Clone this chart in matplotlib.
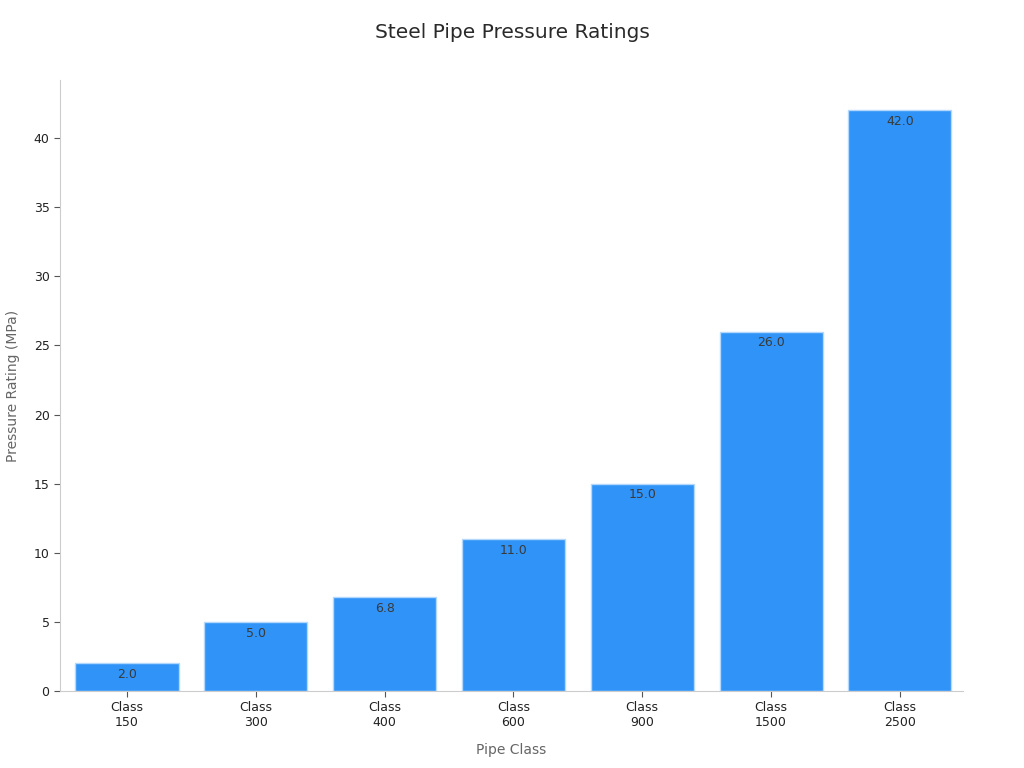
import matplotlib.pyplot as plt

classes = ["Class\n150", "Class\n300", "Class\n400", "Class\n600", "Class\n900", "Class\n1500", "Class\n2500"]
ratings = [2.0, 5.0, 6.8, 11.0, 15.0, 26.0, 42.0]

fig = plt.figure(figsize=(10.24, 7.68), dpi=100)
ax = fig.add_axes([60 / 1024, 77 / 768, 903 / 1024, 611 / 768])

x = range(len(classes))
bars = ax.bar(x, ratings, width=0.8, color="#2f93f7", edgecolor="#b3d8fc", linewidth=1)

for b, v in zip(bars, ratings):
    ax.text(b.get_x() + b.get_width() / 2, v - 0.35, f"{v:.1f}", ha="center", va="top",
            fontsize=9, color="#3a3a3a")

ax.set_xticks(list(x))
ax.set_xticklabels(classes, fontsize=9, color="#222222")
ax.set_xlim(-0.52, 6.49)
ax.set_ylim(0, 44.2)
ax.set_yticks([0, 5, 10, 15, 20, 25, 30, 35, 40])
ax.tick_params(axis="y", labelsize=9, colors="#222222")
ax.tick_params(axis="both", color="#555555", length=4)

for s in ["top", "right"]:
    ax.spines[s].set_visible(False)
for s in ["left", "bottom"]:
    ax.spines[s].set_color("#cccccc")

ax.set_xlabel("Pipe Class", fontsize=10, color="#666666", labelpad=10)
ax.set_ylabel("Pressure Rating (MPa)", fontsize=10, color="#666666", labelpad=10)
fig.suptitle("Steel Pipe Pressure Ratings", fontsize=14.5, color="#2a2a2a", y=0.97)

fig.savefig("out.png", dpi=100)
